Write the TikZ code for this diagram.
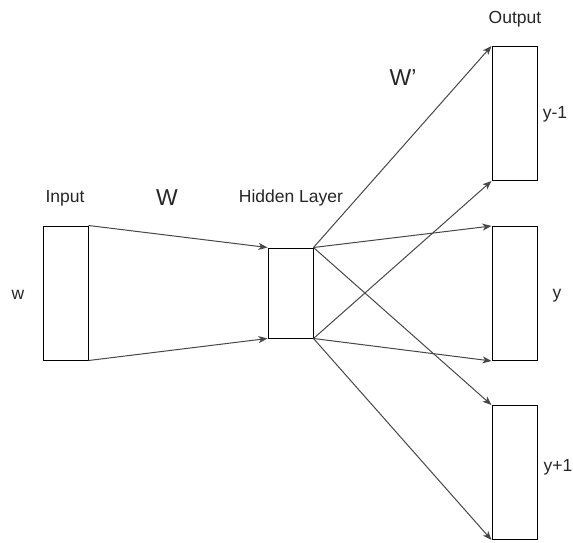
\documentclass[tikz,border=0pt]{standalone}
\usepackage{fontspec}
\setmainfont{Liberation Sans}
\usepackage{tikz}
\usetikzlibrary{arrows.meta,positioning}

\tikzset{
  layer/.style={draw, rectangle, line width=1pt, inner sep=0pt,
    minimum width=45pt, minimum height=134pt},
  weight/.style={->, draw=black!72, line width=1pt},
  lbl/.style={font=\fontsize{17.5}{20}\selectfont, text=black!85},
  big/.style={font=\fontsize{23}{26}\selectfont, text=black!85}
}

\begin{document}
\begin{tikzpicture}[>={Stealth[length=9pt,width=7pt,inset=2.5pt]},x=1pt,y=-1pt]
\useasboundingbox (0,0) rectangle (573,543);
% layers
\node[layer] (input) at (65.5,293) {};
\node[layer, minimum height=90pt] (hidden) at (290.5,293) {};
\node[layer] (prev) at (514.5,113.5) {};
\node[layer] (word) at (514.5,293.5) {};
\node[layer] (next) at (514.5,472.5) {};
% labels
\node[lbl] (inlbl) at (65,198) {Input};
\node[big] (wlbl) at (167,198) {W};
\node[lbl] (hidlbl) at (291,198) {Hidden Layer};
\node[lbl] (wordlbl) at (18,295) {w};
\node[big] (wplbl) at (403,78) {W'};
\node[lbl] (outlbl) at (515,19) {Output};
\node[lbl] (prevlbl) at (555,114) {y-1};
\node[lbl] (ylbl) at (557,296) {y};
\node[lbl] (nextlbl) at (558,467) {y+1};
% input -> hidden
\draw[weight] (input.north east) -- (hidden.north west);
\draw[weight] (input.south east) -- (hidden.south west);
% hidden -> outputs
\foreach \o in {prev,word,next} {
  \draw[weight] (hidden.north east) -- (\o.north west);
  \draw[weight] (hidden.south east) -- (\o.south west);
}
\end{tikzpicture}
\end{document}
